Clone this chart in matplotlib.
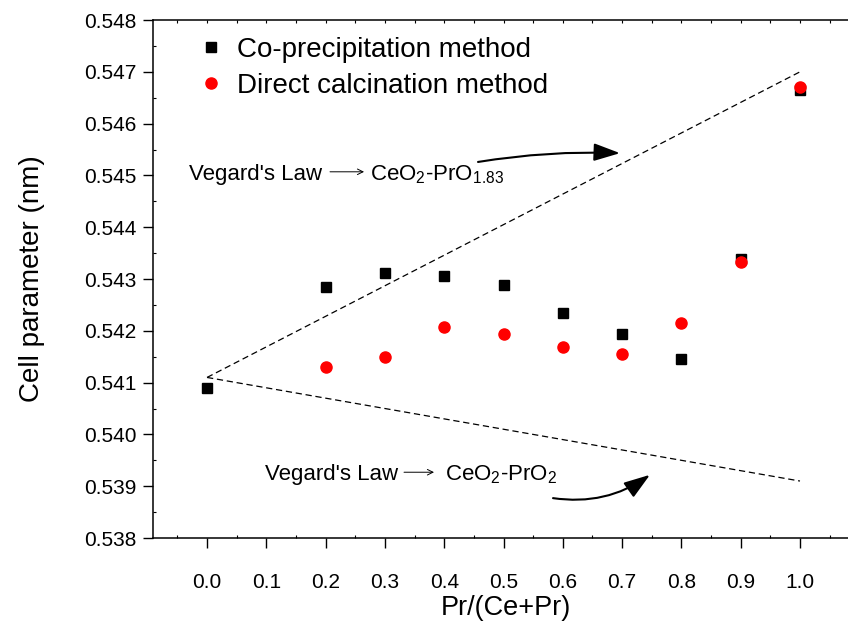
import numpy as np
import matplotlib.pyplot as plt

plt.rcParams['font.family'] = ['Liberation Sans', 'DejaVu Sans']
plt.rcParams['mathtext.fontset'] = 'custom'
plt.rcParams['mathtext.rm'] = 'Liberation Sans'
plt.rcParams['mathtext.it'] = 'Liberation Sans'

# Pr fraction and measured cell parameters (nm)
pr_frac = [0.0, 0.2, 0.3, 0.4, 0.5, 0.6, 0.7, 0.8, 0.9, 1.0]
coprec = [0.54089, 0.54285, 0.54311, 0.54306, 0.54288, 0.54235,
          0.54193, 0.54146, 0.54338, 0.54664]

pr_frac_dc = [0.2, 0.3, 0.4, 0.5, 0.6, 0.7, 0.8, 0.9, 1.0]
direct = [0.54130, 0.54150, 0.54207, 0.54194, 0.54168, 0.54155,
          0.54215, 0.54333, 0.54671]

# Vegard's law lines
vegard_x = [0.0, 1.0]
vegard_pro183 = [0.5411, 0.5470]
vegard_pro2 = [0.5411, 0.5391]

fig = plt.figure(figsize=(8.48, 6.24), dpi=100)
ax = fig.add_axes([0.1808, 0.1378, 0.8325, 0.8301])

dash = (0, (5, 3))
ax.plot(vegard_x, vegard_pro183, color='black', lw=0.9, linestyle=dash)
ax.plot(vegard_x, vegard_pro2, color='black', lw=0.9, linestyle=dash)

ax.plot(pr_frac, coprec, linestyle='none', marker='s', ms=7, color='black',
        label='Co-precipitation method')
ax.plot(pr_frac_dc, direct, linestyle='none', marker='o', ms=8, color='red',
        mec='red', label='Direct calcination method')

ax.set_xlim(-0.0906, 1.1)
ax.set_ylim(0.538, 0.548)
ax.set_xticks(np.arange(0, 1.01, 0.1))
ax.set_xticklabels([f'{v:.1f}' for v in np.arange(0, 1.01, 0.1)])
ax.set_yticks(np.arange(0.538, 0.5481, 0.001))
ax.set_yticklabels([f'{v:.3f}' for v in np.arange(0.538, 0.5481, 0.001)])
ax.set_xticks(np.arange(-0.05, 1.1, 0.05), minor=True)
ax.set_yticks(np.arange(0.5385, 0.548, 0.001), minor=True)

ax.tick_params(which='major', direction='out', length=7, width=1,
               labelsize=15, pad=5)
ax.tick_params(which='minor', direction='in', length=2.5, width=0.8)
ax.tick_params(axis='x', pad=18)
ax.spines['right'].set_visible(False)
for s in ['left', 'bottom', 'top']:
    ax.spines[s].set_linewidth(1.1)

top = ax.secondary_xaxis('top')
top.set_xticks(np.arange(-0.05, 1.1, 0.05))
top.tick_params(direction='in', length=2.5, width=0.8, labeltop=False)
top.spines['top'].set_visible(False)

ax.set_xlabel('Pr/(Ce+Pr)', fontsize=19.5, labelpad=2)
ax.set_ylabel('Cell parameter (nm)', fontsize=20, labelpad=28)

fig.legend(loc='upper left', bbox_to_anchor=(197.0 / 848, 1 - 37 / 624),
           frameon=False, fontsize=20, handlelength=1.0, handletextpad=0.45,
           labelspacing=0.36, borderpad=0, borderaxespad=0)

# annotations
fs = 16
ax.text(-0.030, 0.54491, "Vegard's Law", fontsize=fs, va='baseline')
ax.annotate('', xy=(0.2648, 0.54507), xytext=(0.2074, 0.54507),
            arrowprops=dict(arrowstyle='->', lw=0.7, color='black',
                            shrinkA=0, shrinkB=0))
ax.text(0.275, 0.54491, r'CeO$_2$-PrO$_{1.83}$', fontsize=fs, va='baseline')
ax.annotate('', xy=(0.6965, 0.54543), xytext=(0.457, 0.54526),
            arrowprops=dict(arrowstyle='-|>,head_length=0.8,head_width=0.27',
                            mutation_scale=20, lw=1.5, color='black',
                            connectionstyle='arc3,rad=-0.05',
                            shrinkA=0, shrinkB=0))

ax.text(0.0978, 0.53912, "Vegard's Law", fontsize=fs, va='baseline')
ax.annotate('', xy=(0.3828, 0.53927), xytext=(0.3322, 0.53927),
            arrowprops=dict(arrowstyle='->', lw=0.7, color='black',
                            shrinkA=0, shrinkB=0))
ax.text(0.4013, 0.53912, r'CeO$_2$-PrO$_2$', fontsize=fs, va='baseline')
ax.annotate('', xy=(0.747, 0.53922), xytext=(0.5835, 0.53877),
            arrowprops=dict(arrowstyle='-|>,head_length=0.8,head_width=0.27',
                            mutation_scale=20, lw=1.5, color='black',
                            connectionstyle='arc3,rad=0.2',
                            shrinkA=0, shrinkB=0))

fig.savefig('out.png', dpi=100)
